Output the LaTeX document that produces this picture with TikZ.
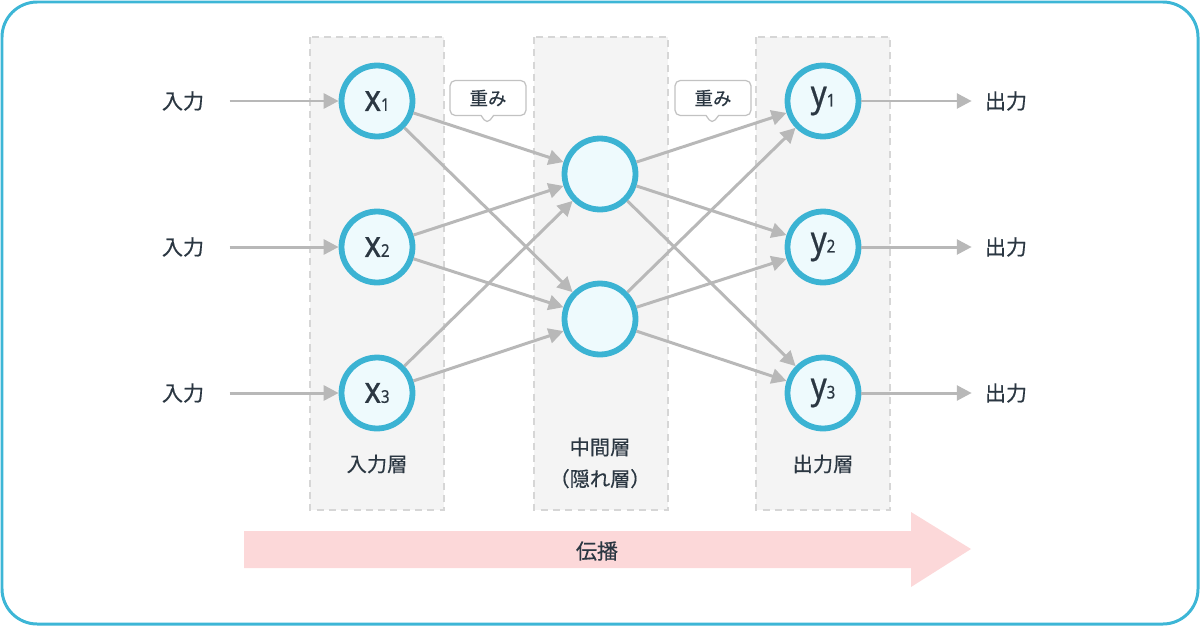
\documentclass[tikz,border=0pt]{standalone}
\usepackage{fontspec}
\setmainfont{Noto Sans CJK JP}[FakeBold=0.4]
\newfontfamily\latinfont[FakeStretch=0.85,FakeBold=0.6]{Noto Sans}
\usetikzlibrary{arrows.meta,shapes.callouts}
\definecolor{framecol}{HTML}{3DB6D6}
\definecolor{ringcol}{HTML}{3BB3D3}
\definecolor{ringfill}{HTML}{EEFAFD}
\definecolor{layerfill}{HTML}{F4F4F4}
\definecolor{layerline}{HTML}{D6D6D6}
\definecolor{edgecol}{HTML}{B8B8B8}
\definecolor{textcol}{HTML}{2B3742}
\definecolor{pinkcol}{HTML}{FCD8D9}
\definecolor{calloutline}{HTML}{C2C2C2}
\newcommand{\unitlbl}[2]{{\latinfont\fontsize{21}{21}\selectfont #1}{\latinfont\fontsize{10}{10}\selectfont #2}}
\begin{document}
\begin{tikzpicture}[x=0.02cm,y=-0.02cm,text=textcol,
	unit/.style={draw=ringcol,fill=ringfill,circle,line width=3.3pt,minimum size=1.42cm,inner sep=0pt},
	lbl/.style={font=\fontsize{12}{14}\selectfont},
	layerlbl/.style={font=\fontsize{11.5}{18}\selectfont,align=center},
	layer/.style={fill=layerfill,draw=layerline,dash pattern=on 4pt off 3pt,line width=0.6pt},
	edge/.style={draw=edgecol,line width=1.7pt,-{Triangle[length=8.5pt,width=8.5pt]}},
	weight/.style={draw=calloutline,fill=white,rectangle callout,rounded corners=3pt,line width=0.7pt,
		minimum width=1.52cm,minimum height=0.7cm,inner sep=0pt,font=\fontsize{10.5}{12}\selectfont}]
	\useasboundingbox (0,0) rectangle (1200,626);
	% frame
	\draw[framecol,line width=1.7pt,rounded corners=20pt] (2,2) rectangle (1198,624);
	% layers
	\draw[layer] (310,37) rectangle (444,510);
	\draw[layer] (534,37) rectangle (668,510);
	\draw[layer] (756,37) rectangle (890,510);
	% propagation
	\fill[pinkcol] (244,531) -- (911,531) -- (911,512) -- (971,549) -- (911,587) -- (911,568) -- (244,568) -- cycle;
	\node[lbl] (prop) at (597,551){伝播};
	% units
	\node[unit] (x1) at (377,101){\unitlbl{x}{1}};
	\node[unit] (x2) at (377,247){\unitlbl{x}{2}};
	\node[unit] (x3) at (377,393){\unitlbl{x}{3}};
	\node[unit] (h1) at (600,174){};
	\node[unit] (h2) at (600,319){};
	\node[unit] (y1) at (823,101){\unitlbl{y}{1}};
	\node[unit] (y2) at (823,247){\unitlbl{y}{2}};
	\node[unit] (y3) at (823,393){\unitlbl{y}{3}};
	% in / out
	\node[lbl] (in1) at (183,101){入力};
	\node[lbl] (in2) at (183,247){入力};
	\node[lbl] (in3) at (183,393){入力};
	\node[lbl] (out1) at (1006,101){出力};
	\node[lbl] (out2) at (1006,247){出力};
	\node[lbl] (out3) at (1006,393){出力};
	\foreach \i in {1,2,3}{
		\draw[edge,shorten <=11pt] (in\i)--(x\i);
		\draw[edge,shorten >=4pt] (y\i)--(out\i);
		}
	\foreach \a in {x1,x2,x3}{\foreach \b in {h1,h2}{\draw[edge] (\a)--(\b);}}
	\foreach \a in {h1,h2}{\foreach \b in {y1,y2,y3}{\draw[edge] (\a)--(\b);}}
	% weights
	\node[weight,callout absolute pointer={(487,124)}] (w1) at (488,98){重み};
	\node[weight,callout absolute pointer={(712,124)}] (w2) at (713,98){重み};
	% layer names
	\node[layerlbl] (lin) at (377,464){入力層};
	\node[layerlbl] (lmid) at (600,463){中間層\\（隠れ層）};
	\node[layerlbl] (lout) at (823,464){出力層};
\end{tikzpicture}
\end{document}
